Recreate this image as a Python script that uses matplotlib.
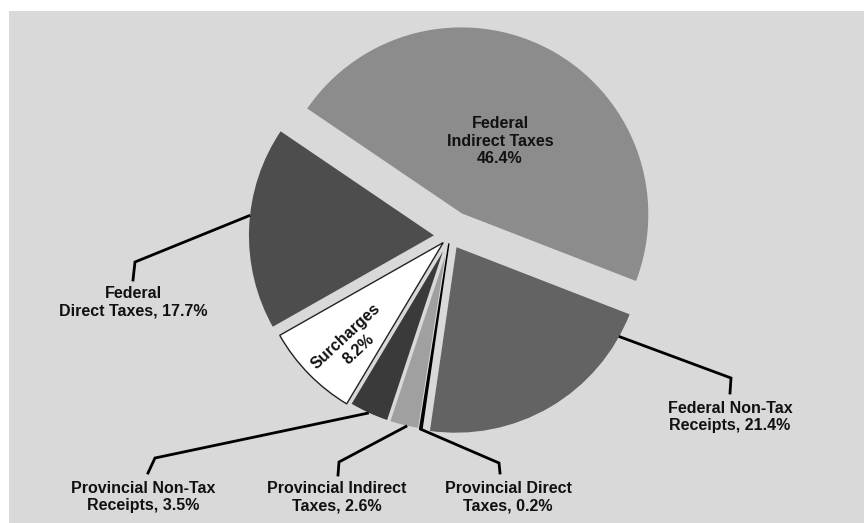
import matplotlib
matplotlib.use("Agg")
import matplotlib.pyplot as plt
from matplotlib.patches import Rectangle
import numpy as np

# ---- data ----
categories = ["Federal Indirect Taxes", "Federal Direct Taxes", "Surcharges",
              "Provincial Non-Tax Receipts", "Provincial Indirect Taxes",
              "Provincial Direct Taxes", "Federal Non-Tax Receipts"]
shares = [46.4, 17.7, 8.2, 3.5, 2.6, 0.2, 21.4]
label_texts = ["Federal\nIndirect Taxes\n46.4%",
               "Federal\nDirect Taxes, 17.7%",
               "Surcharges\n8.2%",
               "Provincial Non-Tax\nReceipts, 3.5%",
               "Provincial Indirect\nTaxes, 2.6%",
               "Provincial Direct\nTaxes, 0.2%",
               "Federal Non-Tax\nReceipts, 21.4%"]

# ---- styles ----
colors = ["#8c8c8c", "#4d4d4d", "#ffffff", "#3a3a3a", "#a0a0a0", "#000000", "#636363"]
explode_frac = [0.13, 0.075, 0.05, 0.04, 0.04, 0.04, 0.06]
BG = "#d9d9d9"

W, H = 864, 523
fig = plt.figure(figsize=(W / 100, H / 100), dpi=100, facecolor="white")
ax = fig.add_axes([0, 0, 1, 1])
ax.set_facecolor("white")
ax.add_patch(Rectangle((9, 0), W - 9, H - 11, facecolor=BG, edgecolor="none", zorder=0))

center = (450, 287)
R = 188
wedges, _ = ax.pie(shares, colors=colors, explode=[e * R for e in explode_frac],
                   startangle=-21.2, counterclock=True, center=center, radius=R,
                   frame=True, wedgeprops=dict(edgecolor=BG, linewidth=1.5))
for i, w in enumerate(wedges):
    w.set_zorder(2)
    if colors[i] == "#ffffff":
        w.set_edgecolor("#222222")
        w.set_linewidth(1.0)
    if colors[i] == "#000000":
        w.set_edgecolor("#000000")
        w.set_linewidth(1.0)

ax.set_xlim(0, W)
ax.set_ylim(0, H)
ax.set_aspect("auto")
ax.set_xticks([])
ax.set_yticks([])
for s in ax.spines.values():
    s.set_visible(False)

font = dict(family=["Liberation Sans", "DejaVu Sans"], fontweight="bold",
            fontsize=11.5, color="#111111")

# inside labels
ax.text(500, 382, label_texts[0], ha="center", va="center", linespacing=1.2, zorder=5, **font)
ax.text(352, 180, label_texts[2], ha="center", va="center", rotation=43,
        linespacing=1.3, zorder=5, **font)

# outside labels with leader lines: (index, anchor angle, corner, end, label pos)
outside = [
    (1, 174, (135, 261), (133, 243), (133, 221)),
    (6, -29, (731, 145), (730, 130), (730, 106)),
    (3, 245, (155, 65), (148, 50), (143, 26)),
    (4, 257, (339, 61), (338, 48), (337, 26)),
    (5, 261.5, (499, 60), (500, 50), (508, 26)),
]
for idx, ang, corner, end, pos in outside:
    w = wedges[idx]
    cx, cy = w.center
    a = np.deg2rad(ang)
    sx, sy = cx + w.r * np.cos(a), cy + w.r * np.sin(a)
    ax.plot([sx, corner[0], end[0]], [sy, corner[1], end[1]], color="black",
            lw=2.0, zorder=3, solid_joinstyle="miter")
    ax.text(pos[0], pos[1], label_texts[idx], ha="center", va="center",
            linespacing=1.2, zorder=5, **font)

fig.savefig("out.png", dpi=100, facecolor="white")
